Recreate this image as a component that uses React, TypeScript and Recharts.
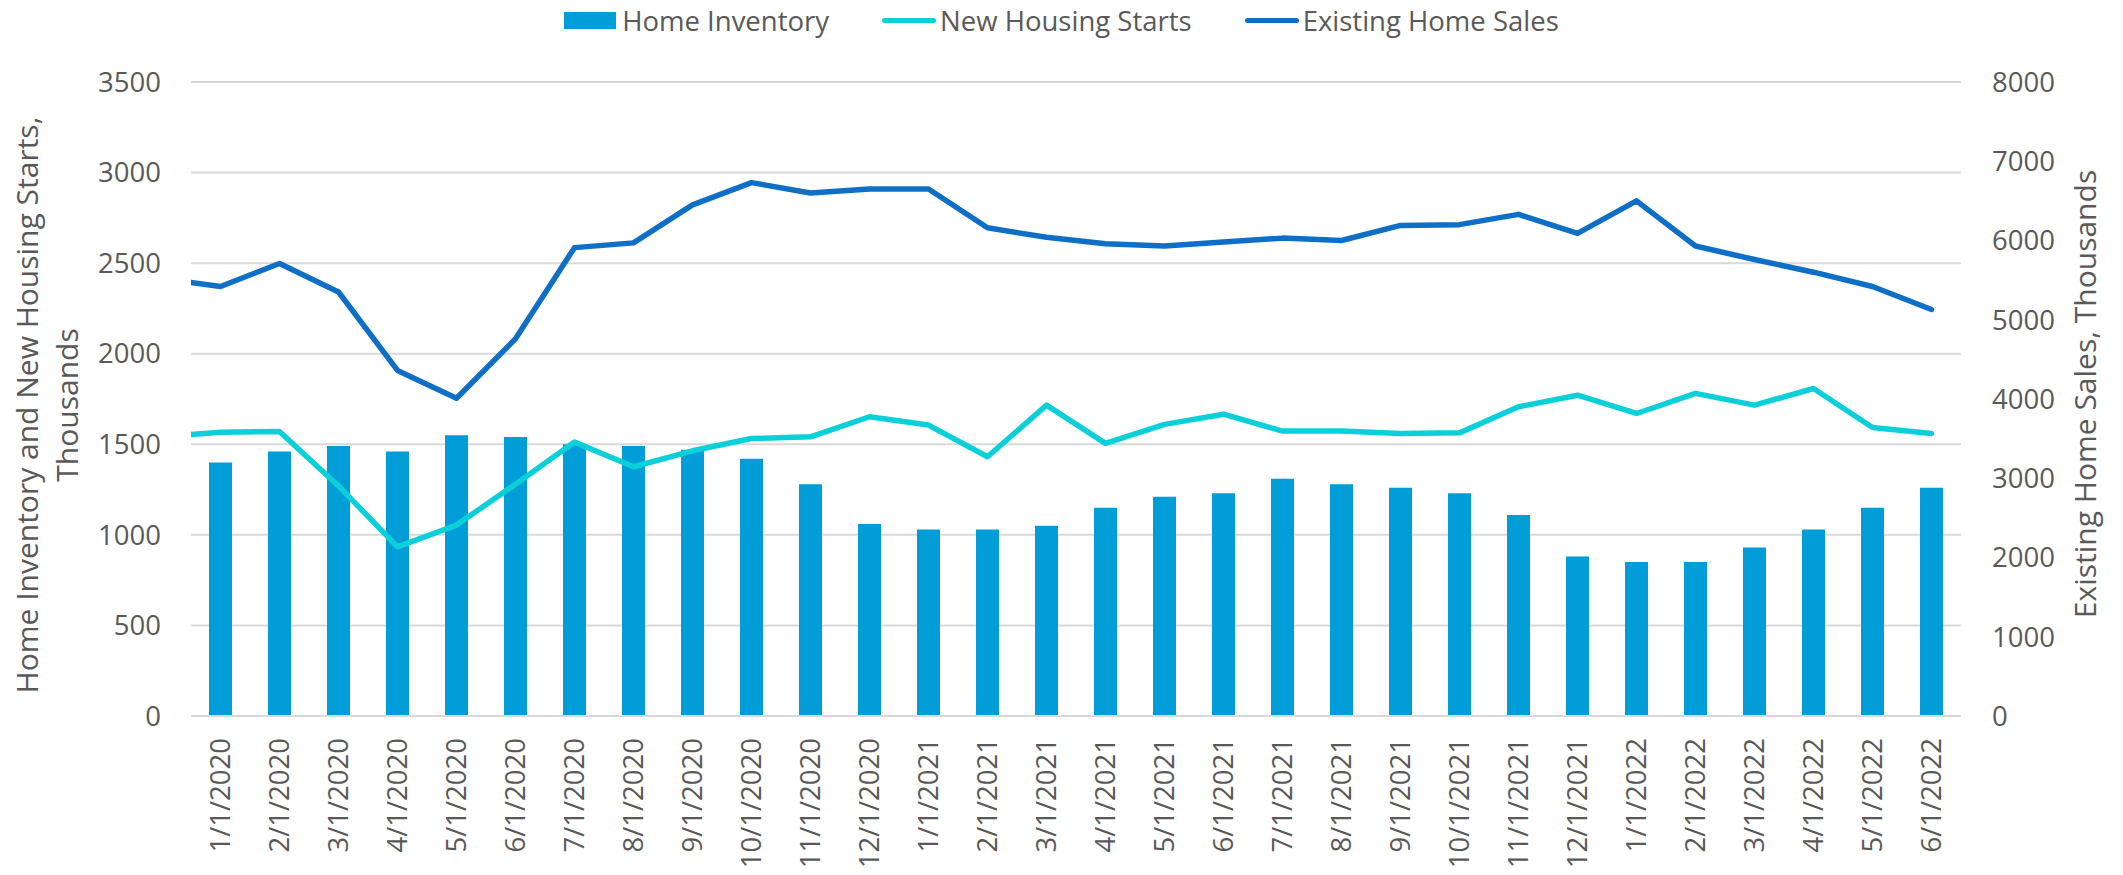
import React from "react";
import { ComposedChart, Bar, Line, XAxis, YAxis, CartesianGrid, Legend, Label } from "recharts";

const categories = [
  "1/1/2020", "2/1/2020", "3/1/2020", "4/1/2020", "5/1/2020", "6/1/2020",
  "7/1/2020", "8/1/2020", "9/1/2020", "10/1/2020", "11/1/2020", "12/1/2020",
  "1/1/2021", "2/1/2021", "3/1/2021", "4/1/2021", "5/1/2021", "6/1/2021",
  "7/1/2021", "8/1/2021", "9/1/2021", "10/1/2021", "11/1/2021", "12/1/2021",
  "1/1/2022", "2/1/2022", "3/1/2022", "4/1/2022", "5/1/2022", "6/1/2022",
];

// thousands, left axis
const homeInventory = [
  1400, 1460, 1490, 1460, 1550, 1540, 1500, 1490, 1470, 1420, 1280, 1060,
  1030, 1030, 1050, 1150, 1210, 1230, 1310, 1280, 1260, 1230, 1110, 880,
  850, 850, 930, 1030, 1150, 1260,
];

// thousands, left axis
const newHousingStarts = [
  1567, 1571, 1270, 934, 1054, 1280, 1512, 1376, 1464, 1532, 1541, 1652,
  1606, 1431, 1716, 1505, 1610, 1666, 1573, 1574, 1560, 1563, 1707, 1771,
  1670, 1781, 1716, 1808, 1593, 1560,
];

// thousands, right axis
const existingHomeSales = [
  5420, 5710, 5350, 4360, 4010, 4760, 5910, 5970, 6450, 6730, 6600, 6650,
  6650, 6160, 6040, 5960, 5930, 5980, 6030, 6000, 6190, 6200, 6330, 6090,
  6500, 5930, 5760, 5600, 5420, 5130,
];

// the lines carry one month before the first category; it is cut off at the plot edge
const priorStarts = 1540;
const priorSales = 5520;

const leftTicks = [0, 500, 1000, 1500, 2000, 2500, 3000, 3500];
const rightTicks = [0, 1000, 2000, 3000, 4000, 5000, 6000, 7000, 8000];

const BAR_COLOR = "#009DD9";
const STARTS_COLOR = "#0BD0D9";
const SALES_COLOR = "#0F6FC6";
const TEXT = "#595959";
const FONT = "'Open Sans', sans-serif";

const data = [
  { idx: 0, inventory: null, starts: priorStarts, sales: priorSales },
  ...categories.map((c, i) => ({
    idx: i + 1,
    inventory: homeInventory[i],
    starts: newHousingStarts[i],
    sales: existingHomeSales[i],
  })),
];

const DateTick = ({ x, y, payload }: any) => (
  <g transform={`translate(${x},${y})`}>
    <text transform="rotate(-90)" textAnchor="end" dy="0.36em" fill={TEXT} fontSize={27.5} fontFamily={FONT}>
      {categories[payload.value - 1]}
    </text>
  </g>
);

const renderLegend = () => {
  const items = [
    { name: "Home Inventory", color: BAR_COLOR, type: "rect" },
    { name: "New Housing Starts", color: STARTS_COLOR, type: "line" },
    { name: "Existing Home Sales", color: SALES_COLOR, type: "line" },
  ];
  return (
    <div style={{ display: "flex", justifyContent: "center", alignItems: "center", fontFamily: FONT, fontSize: 27.5, color: TEXT }}>
      {items.map((it, i) => (
        <div key={it.name} style={{ display: "flex", alignItems: "center", marginLeft: i ? 53 : 0 }}>
          {it.type === "rect" ? (
            <span style={{ display: "inline-block", width: 52, height: 17, background: it.color, marginRight: 6 }} />
          ) : (
            <span style={{ display: "inline-block", width: 54, height: 5.5, borderRadius: 3, background: it.color, marginRight: 4 }} />
          )}
          <span>{it.name}</span>
        </div>
      ))}
    </div>
  );
};

const LeftTitle = ({ viewBox }: any) => {
  const cy = viewBox.y + viewBox.height / 2 + 6;
  return (
    <g fill={TEXT} fontSize={30} fontFamily={FONT}>
      <text transform={`translate(${viewBox.x + 27},${cy}) rotate(-90)`} textAnchor="middle" dy="0.36em">
        Home Inventory and New Housing Starts,
      </text>
      <text transform={`translate(${viewBox.x + 67},${cy}) rotate(-90)`} textAnchor="middle" dy="0.36em">
        Thousands
      </text>
    </g>
  );
};

const RightTitle = ({ viewBox }: any) => {
  const cy = viewBox.y + viewBox.height / 2 - 5;
  return (
    <text
      transform={`translate(${viewBox.x + 124},${cy}) rotate(-90)`}
      textAnchor="middle"
      dy="0.36em"
      fill={TEXT}
      fontSize={30}
      fontFamily={FONT}
    >
      Existing Home Sales, Thousands
    </text>
  );
};

const tickStyle = { fill: TEXT, fontSize: 27.5, fontFamily: FONT };

export default function App() {
  return (
    <div style={{ position: "absolute", left: 0, top: 0, width: 2123, height: 875, background: "#fff", fontFamily: FONT }}>
      <ComposedChart width={2123} height={875} data={data} margin={{ top: 82, right: 0, bottom: 0, left: 0 }}>
        <CartesianGrid yAxisId="left" horizontal vertical={false} stroke="#d9d9d9" strokeWidth={2} />
        <XAxis
          dataKey="idx"
          type="number"
          domain={[0.5, 30.5]}
          allowDataOverflow
          ticks={categories.map((_, i) => i + 1)}
          interval={0}
          height={159}
          tickLine={false}
          tickSize={0}
          tickMargin={22}
          axisLine={{ stroke: "#d9d9d9", strokeWidth: 2 }}
          tick={<DateTick />}
        />
        <YAxis
          yAxisId="left"
          domain={[0, 3500]}
          ticks={leftTicks}
          width={191}
          axisLine={false}
          tickLine={false}
          tickSize={0}
          tickMargin={30}
          tick={tickStyle}
        >
          <Label content={<LeftTitle />} />
        </YAxis>
        <YAxis
          yAxisId="right"
          orientation="right"
          domain={[0, 8000]}
          ticks={rightTicks}
          width={162}
          axisLine={false}
          tickLine={false}
          tickSize={0}
          tickMargin={31}
          tick={{ ...tickStyle, textAnchor: "start" }}
        >
          <Label content={<RightTitle />} />
        </YAxis>
        <Legend verticalAlign="middle" align="center" layout="horizontal" wrapperStyle={{ top: 2, left: 0, width: 2123, height: 40 }} content={renderLegend} />
        <Bar yAxisId="left" dataKey="inventory" name="Home Inventory" fill={BAR_COLOR} barSize={23} isAnimationActive={false} />
        <Line
          yAxisId="left"
          type="linear"
          dataKey="starts"
          name="New Housing Starts"
          stroke={STARTS_COLOR}
          strokeWidth={5.5}
          strokeLinejoin="round"
          strokeLinecap="round"
          dot={false}
          activeDot={false}
          isAnimationActive={false}
        />
        <Line
          yAxisId="right"
          type="linear"
          dataKey="sales"
          name="Existing Home Sales"
          stroke={SALES_COLOR}
          strokeWidth={5.5}
          strokeLinejoin="round"
          strokeLinecap="round"
          dot={false}
          activeDot={false}
          isAnimationActive={false}
        />
      </ComposedChart>
    </div>
  );
}
